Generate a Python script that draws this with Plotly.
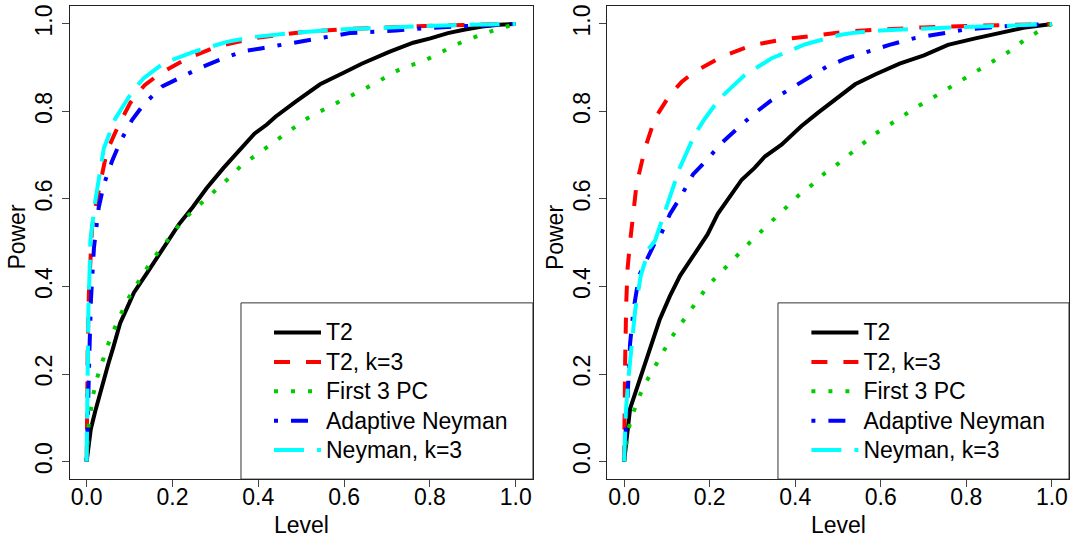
import plotly.graph_objects as go

# ---------------- data ----------------
series_names = ["T2", "T2, k=3", "First 3 PC", "Adaptive Neyman", "Neyman, k=3"]
series_colors = ["#000000", "#FF0000", "#00CD00", "#0000FF", "#00FFFF"]
series_dashes = ["solid", "16px,16px", "4px,13px", "4px,13px,17px,13px", "30px,13px"]

tick_vals = [0.0, 0.2, 0.4, 0.6, 0.8, 1.0]

# left panel
left_t2_level = [0, 0.004, 0.0096, 0.02, 0.030, 0.038, 0.05, 0.062, 0.078, 0.095, 0.110, 0.142, 0.178, 0.215,
                 0.247, 0.279, 0.319, 0.359, 0.391, 0.420, 0.440, 0.488, 0.544, 0.600, 0.641, 0.705, 0.761,
                 0.801, 0.842, 0.882, 0.922, 0.96, 1.0]
left_t2_power = [0, 0.035, 0.074, 0.115, 0.152, 0.183, 0.222, 0.261, 0.316, 0.353, 0.386, 0.433, 0.488, 0.542,
                 0.581, 0.624, 0.671, 0.714, 0.749, 0.770, 0.788, 0.823, 0.862, 0.889, 0.909, 0.936, 0.957,
                 0.967, 0.979, 0.987, 0.994, 0.998, 1.0]

left_t2k3_level = [0, 0.0005, 0.001, 0.0024, 0.005, 0.0124, 0.018, 0.032, 0.047, 0.0746, 0.102, 0.113, 0.135,
                   0.172, 0.234, 0.304, 0.393, 0.5, 0.6, 0.7, 0.842, 1.0]
left_t2k3_power = [0, 0.08, 0.17, 0.254, 0.38, 0.534, 0.57, 0.640, 0.709, 0.769, 0.82, 0.834, 0.86,
                   0.887, 0.921, 0.948, 0.968, 0.981, 0.988, 0.992, 0.997, 1.0]

left_pc3_level = [0, 0.004, 0.0096, 0.015, 0.024, 0.035, 0.048, 0.062, 0.077, 0.093, 0.113, 0.134, 0.154, 0.177,
                  0.199, 0.223, 0.251, 0.277, 0.305, 0.333, 0.359, 0.390, 0.420, 0.449, 0.480, 0.510, 0.544,
                  0.578, 0.610, 0.643, 0.678, 0.711, 0.745, 0.779, 0.814, 0.848, 0.882, 0.918, 0.954, 1.0]
left_pc3_power = [0, 0.078, 0.117, 0.152, 0.190, 0.226, 0.263, 0.298, 0.333, 0.366, 0.399, 0.431, 0.463, 0.491,
                  0.521, 0.550, 0.576, 0.599, 0.624, 0.649, 0.675, 0.697, 0.718, 0.739, 0.763, 0.782, 0.800,
                  0.817, 0.835, 0.852, 0.867, 0.887, 0.903, 0.912, 0.930, 0.946, 0.962, 0.975, 0.987, 1.0]

left_aneyman_level = [0, 0.001, 0.004, 0.007, 0.010, 0.017, 0.028, 0.040, 0.059, 0.078, 0.106, 0.133, 0.176,
                      0.217, 0.261, 0.308, 0.366, 0.406, 0.512, 0.613, 0.721, 0.785, 0.882, 1.0]
left_aneyman_power = [0, 0.05, 0.152, 0.27, 0.37, 0.489, 0.58, 0.633, 0.686, 0.730, 0.781, 0.816, 0.857,
                      0.876, 0.898, 0.917, 0.938, 0.944, 0.963, 0.979, 0.985, 0.990, 0.995, 1.0]

left_neyman3_level = [0, 0.0005, 0.0016, 0.004, 0.007, 0.0085, 0.020, 0.040, 0.067, 0.106, 0.133, 0.179, 0.249,
                      0.327, 0.389, 0.5, 0.6, 0.7, 0.85, 1.0]
left_neyman3_power = [0, 0.1, 0.19, 0.347, 0.44, 0.504, 0.595, 0.716, 0.784, 0.845, 0.876, 0.910, 0.936,
                      0.959, 0.970, 0.981, 0.988, 0.992, 0.997, 1.0]

# right panel
right_t2_level = [0, 0.006, 0.014, 0.035, 0.059, 0.083, 0.107, 0.131, 0.163, 0.195, 0.219, 0.251, 0.275, 0.305,
                  0.329, 0.368, 0.414, 0.452, 0.500, 0.540, 0.588, 0.644, 0.701, 0.757, 0.821, 0.877, 0.933, 1.0]
right_t2_power = [0, 0.059, 0.121, 0.183, 0.254, 0.324, 0.378, 0.425, 0.472, 0.519, 0.566, 0.612, 0.644, 0.671,
                  0.697, 0.724, 0.766, 0.796, 0.831, 0.862, 0.885, 0.909, 0.928, 0.952, 0.967, 0.979, 0.991, 1.0]

right_t2k3_level = [0, 0.0005, 0.0024, 0.005, 0.008, 0.0138, 0.029, 0.049, 0.072, 0.107, 0.135, 0.165, 0.228,
                    0.298, 0.375, 0.453, 0.523, 0.6, 0.7, 0.837, 1.0]
right_t2k3_power = [0, 0.074, 0.23, 0.363, 0.44, 0.50, 0.633, 0.716, 0.784, 0.838, 0.868, 0.891, 0.925,
                    0.951, 0.965, 0.974, 0.983, 0.987, 0.992, 0.996, 1.0]

right_pc3_level = [0, 0.010, 0.022, 0.035, 0.052, 0.071, 0.089, 0.109, 0.131, 0.152, 0.175, 0.197, 0.223, 0.249,
                   0.275, 0.302, 0.329, 0.356, 0.384, 0.410, 0.440, 0.468, 0.498, 0.528, 0.558, 0.587, 0.618,
                   0.650, 0.682, 0.714, 0.746, 0.779, 0.813, 0.845, 0.877, 0.909, 0.940, 0.970, 1.0]
right_pc3_power = [0, 0.074, 0.113, 0.148, 0.183, 0.216, 0.25, 0.281, 0.312, 0.343, 0.373, 0.403, 0.429, 0.456,
                   0.484, 0.509, 0.534, 0.559, 0.585, 0.61, 0.633, 0.658, 0.679, 0.702, 0.725, 0.749, 0.768,
                   0.789, 0.809, 0.827, 0.846, 0.864, 0.884, 0.905, 0.924, 0.942, 0.967, 0.984, 1.0]

right_aneyman_level = [0, 0.004, 0.009, 0.014, 0.022, 0.035, 0.051, 0.072, 0.086, 0.107, 0.134, 0.161, 0.195,
                       0.228, 0.266, 0.305, 0.344, 0.387, 0.430, 0.473, 0.519, 0.620, 0.677, 0.725, 0.797,
                       0.877, 1.0]
right_aneyman_power = [0, 0.066, 0.168, 0.27, 0.347, 0.425, 0.456, 0.500, 0.519, 0.565, 0.608, 0.656, 0.691,
                       0.728, 0.762, 0.796, 0.825, 0.851, 0.877, 0.902, 0.921, 0.952, 0.967, 0.975, 0.987,
                       0.994, 1.0]

right_neyman3_level = [0, 0.004, 0.010, 0.018, 0.026, 0.039, 0.059, 0.072, 0.099, 0.130, 0.165, 0.189, 0.224,
                       0.282, 0.344, 0.422, 0.50, 0.539, 0.6, 0.7, 0.8, 0.9, 1.0]
right_neyman3_power = [0, 0.113, 0.19, 0.27, 0.347, 0.425, 0.488, 0.504, 0.580, 0.671, 0.747, 0.784, 0.830,
                       0.883, 0.921, 0.953, 0.974, 0.980, 0.985, 0.99, 0.993, 0.996, 1.0]

left_series = [(left_t2_level, left_t2_power), (left_t2k3_level, left_t2k3_power),
               (left_pc3_level, left_pc3_power), (left_aneyman_level, left_aneyman_power),
               (left_neyman3_level, left_neyman3_power)]
right_series = [(right_t2_level, right_t2_power), (right_t2k3_level, right_t2k3_power),
                (right_pc3_level, right_pc3_power), (right_aneyman_level, right_aneyman_power),
                (right_neyman3_level, right_neyman3_power)]

# ---------------- figure ----------------
W, H = 1075, 538
FONT = "Liberation Sans, Arial, Helvetica, sans-serif"
FS = 23
LEG_FS = 20.3   # controls legend row spacing; text itself drawn at FS


def leg_name(s):
    return '<span style="font-size:%dpx">%s</span>' % (FS, s)


fig = go.Figure()

for (xs, ys), name, col, dash in zip(left_series, series_names, series_colors, series_dashes):
    fig.add_trace(go.Scatter(x=xs, y=ys, mode="lines", name=leg_name(name), xaxis="x", yaxis="y",
                             line=dict(color=col, width=4, dash=dash), legend="legend"))
for (xs, ys), name, col, dash in zip(right_series, series_names, series_colors, series_dashes):
    fig.add_trace(go.Scatter(x=xs, y=ys, mode="lines", name=leg_name(name), xaxis="x2", yaxis="y2",
                             line=dict(color=col, width=4, dash=dash), legend="legend2"))

ydom = [(H - 478.9) / H, (H - 4.4) / H]
xdom1 = [69.5 / W, 532.9 / W]
xdom2 = [607.0 / W, 1069.0 / W]

axis_common = dict(range=[-0.04, 1.04], tickvals=tick_vals, tickformat=".1f", showgrid=False,
                   zeroline=False, showline=True, mirror=True, linecolor="#222", linewidth=1,
                   ticks="outside", ticklen=7, tickwidth=1, tickcolor="#444",
                   tickfont=dict(family=FONT, size=FS, color="black"))

LEG_TOP = 312
LEG_L1 = 269
LEG_L2 = LEG_L1 + 537.4

fig.update_layout(
    width=W, height=H, margin=dict(l=0, r=0, t=0, b=0),
    paper_bgcolor="white", plot_bgcolor="white",
    font=dict(family=FONT, size=FS, color="black"),
    xaxis=dict(domain=xdom1, anchor="y", ticklabelstandoff=-10, **axis_common),
    yaxis=dict(domain=ydom, anchor="x", tickangle=-90, **axis_common),
    xaxis2=dict(domain=xdom2, anchor="y2", ticklabelstandoff=-10, **axis_common),
    yaxis2=dict(domain=ydom, anchor="x2", tickangle=-90, **axis_common),
    legend=dict(x=LEG_L1 / W, y=1 - LEG_TOP / H, xanchor="left", yanchor="top", bgcolor="rgba(0,0,0,0)",
                borderwidth=0, itemwidth=47, font=dict(family=FONT, size=LEG_FS), tracegroupgap=0),
    legend2=dict(x=LEG_L2 / W, y=1 - LEG_TOP / H, xanchor="left", yanchor="top", bgcolor="rgba(0,0,0,0)",
                 borderwidth=0, itemwidth=47, font=dict(family=FONT, size=LEG_FS), tracegroupgap=0),
    showlegend=True,
)

# legend frames (bottom-right boxes)
leg_x0 = (241 - 86.7) / 429.0
leg_y1 = (461.3 - 302) / 439.3
for xr, yr in [("x", "y"), ("x2", "y2")]:
    fig.add_shape(type="rect", xref=xr, yref=yr, x0=leg_x0, x1=1.04, y0=-0.04, y1=leg_y1,
                  line=dict(color="#333", width=1), fillcolor="rgba(0,0,0,0)", layer="above")

# axis titles
for xd in (xdom1, xdom2):
    fig.add_annotation(text="Level", xref="paper", yref="paper", x=(xd[0] + xd[1]) / 2, y=1 - 525 / H,
                       xanchor="center", yanchor="middle", showarrow=False,
                       font=dict(family=FONT, size=FS, color="black"))
for xd in (xdom1, xdom2):
    fig.add_annotation(text="Power", xref="paper", yref="paper", x=(xd[0] * W - 52) / W, y=1 - 236 / H,
                       xanchor="center", yanchor="middle", showarrow=False, textangle=-90,
                       font=dict(family=FONT, size=FS, color="black"))

fig.write_html("out.html", config={"displayModeBar": False, "staticPlot": True},
               post_script="document.body.style.margin='0px';document.body.style.overflow='hidden';")
